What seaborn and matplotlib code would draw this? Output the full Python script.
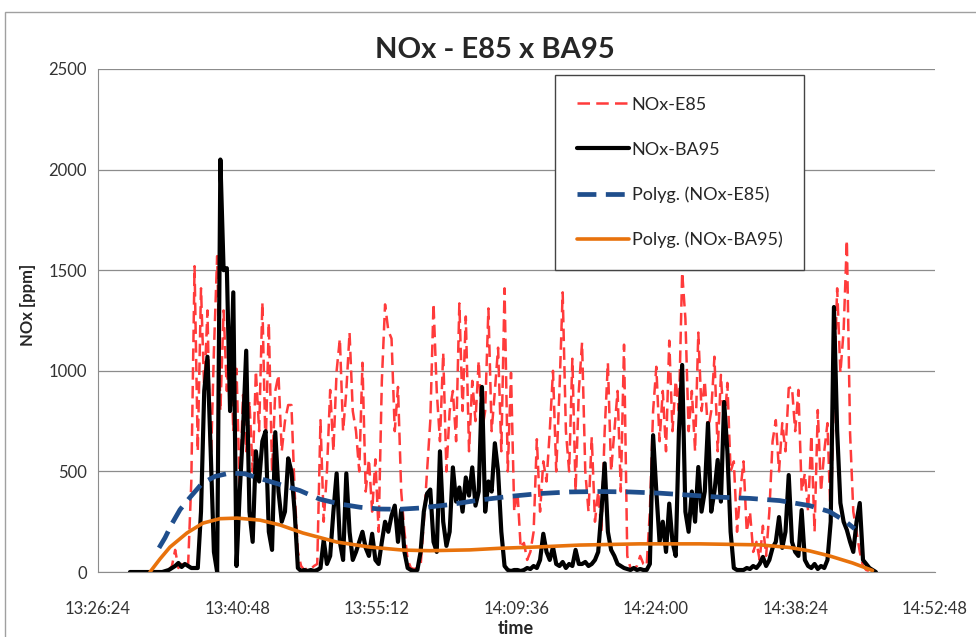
import numpy as np
import seaborn as sns
import matplotlib.pyplot as plt
from matplotlib.ticker import FuncFormatter
from matplotlib.patches import Rectangle

sns.set_style('white')
plt.rcParams['font.family'] = ['Lato', 'DejaVu Sans']

# Data -------------------------------------------------------------------------
start_time = '13:29:42'   # first sample of both logs
step_s = 20               # sampling step [s]

nox_e85 = [
    0, 0, 0, 0, 0, 0, 0, 0, 0, 0,
    0, 0, 10, 30, 110, 20, 40, 15, 30, 450,
    1520, 600, 1410, 900, 1300, 500, 1100, 1570, 800, 1300,
    900, 1200, 700, 1010, 400, 880, 600, 850, 500, 1000,
    700, 1340, 600, 1240, 500, 900, 980, 600, 750, 830,
    830, 400, 100, 30, 10, 20, 15, 30, 40, 755,
    250, 500, 905, 600, 1000, 1160, 700, 900, 1190, 800,
    700, 500, 1040, 400, 560, 300, 560, 200, 950, 1330,
    1200, 1160, 700, 920, 400, 200, 60, 20, 15, 20,
    30, 250, 500, 750, 1335, 900, 650, 1090, 500, 800,
    900, 650, 1335, 800, 1270, 600, 950, 750, 1050, 700,
    800, 1310, 700, 900, 1115, 600, 1410, 500, 990, 300,
    400, 120, 145, 60, 100, 200, 660, 300, 550, 450,
    700, 1000, 500, 900, 1390, 700, 500, 1060, 400, 900,
    1140, 500, 300, 670, 250, 400, 200, 700, 1040, 500,
    700, 900, 400, 1130, 80, 20, 15, 30, 80, 40,
    30, 300, 800, 1020, 650, 900, 600, 1150, 700, 950,
    800, 1490, 1260, 700, 900, 600, 1190, 800, 950, 700,
    800, 1070, 600, 980, 700, 940, 500, 550, 200, 400,
    550, 200, 300, 100, 150, 60, 230, 80, 300, 650,
    755, 500, 740, 600, 914, 920, 700, 905, 400, 490,
    300, 680, 200, 805, 400, 600, 740, 250, 900, 1410,
    990, 1200, 1650, 690, 300, 200, 100, 30, 10, 5,
    0, 0]

nox_ba95 = [
    0, 0, 0, 0, 0, 0, 0, 0, 0, 0,
    0, 5, 10, 20, 30, 45, 25, 40, 30, 20,
    20, 20, 300, 900, 1070, 600, 100, 0, 2050, 1500,
    1510, 800, 1390, 30, 400, 700, 1100, 300, 150, 600,
    450, 650, 700, 200, 110, 695, 400, 250, 300, 565,
    500, 300, 20, 5, 10, 5, 10, 5, 10, 20,
    160, 40, 80, 300, 490, 150, 60, 490, 200, 60,
    100, 150, 200, 120, 80, 190, 60, 40, 150, 250,
    200, 280, 330, 150, 310, 100, 20, 10, 5, 10,
    100, 300, 390, 410, 150, 100, 600, 250, 130, 200,
    520, 350, 420, 300, 470, 380, 520, 330, 400, 920,
    300, 450, 400, 640, 500, 200, 30, 10, 5, 10,
    10, 5, 10, 20, 15, 30, 20, 60, 190, 100,
    60, 124, 40, 30, 50, 20, 40, 30, 110, 40,
    40, 50, 30, 40, 60, 100, 300, 540, 200, 110,
    80, 40, 30, 20, 15, 10, 20, 10, 15, 10,
    10, 40, 680, 400, 150, 250, 100, 340, 150, 80,
    700, 1029, 300, 200, 400, 250, 522, 300, 400, 740,
    300, 400, 557, 350, 845, 600, 200, 20, 10, 10,
    10, 20, 15, 30, 20, 40, 75, 30, 60, 120,
    150, 273, 120, 200, 482, 150, 100, 80, 308, 60,
    30, 20, 40, 15, 30, 20, 60, 250, 1317, 700,
    343, 250, 209, 150, 100, 250, 343, 60, 40, 20,
    10, 0]

# polynomial trendlines (as drawn by the spreadsheet)
poly_e85_time = ['13:32:42', '13:33:19', '13:34:02', '13:34:52', '13:35:53',
                 '13:37:08', '13:38:28', '13:40:01', '13:41:34', '13:43:07',
                 '13:45:11', '13:47:14', '13:49:18', '13:51:22', '13:53:26',
                 '13:55:30', '13:57:33', '13:59:37', '14:02:43', '14:05:49',
                 '14:08:54', '14:12:00', '14:15:06', '14:18:11', '14:21:17',
                 '14:24:23', '14:27:28', '14:30:34', '14:33:40', '14:36:46',
                 '14:39:51', '14:41:55', '14:43:28', '14:44:30']
poly_e85 = [120, 170, 240, 310, 370, 440, 475, 492, 488, 465,
            435, 405, 362, 338, 322, 313, 312, 318, 335, 358,
            376, 390, 398, 400, 398, 392, 382, 372, 366, 355,
            330, 300, 255, 215]

poly_ba95_time = ['13:31:46', '13:32:48', '13:33:50', '13:35:35', '13:37:14',
                  '13:38:59', '13:40:44', '13:43:07', '13:45:11', '13:47:33',
                  '13:51:03', '13:54:28', '13:57:52', '14:00:39', '14:04:47',
                  '14:07:52', '14:12:00', '14:16:08', '14:22:19', '14:28:30',
                  '14:34:42', '14:37:47', '14:39:51', '14:41:55', '14:44:17',
                  '14:46:21']
poly_ba95 = [0, 65, 124, 194, 243, 265, 268, 258, 234, 194,
             149, 124, 109, 106, 110, 118, 125, 134, 140, 140,
             135, 122, 105, 80, 45, 8]

x_ticks = ['13:26:24', '13:40:48', '13:55:12', '14:09:36',
           '14:24:00', '14:38:24', '14:52:48']
y_ticks = [0, 500, 1000, 1500, 2000, 2500]


# ==============================================================================
def to_sec(s):
    h, m, sec = (int(v) for v in s.split(':'))
    return h * 3600 + m * 60 + sec


def fmt_clock(v, pos=None):
    v = int(round(v))
    return f'{v // 3600}:{(v % 3600) // 60:02d}:{v % 60:02d}'


t = to_sec(start_time) + step_s * np.arange(len(nox_e85))
t_pe = [to_sec(s) for s in poly_e85_time]
t_pb = [to_sec(s) for s in poly_ba95_time]

fig, ax = plt.subplots(figsize=(9.76, 6.37), dpi=100)
fig.subplots_adjust(left=0.1004, right=0.958, bottom=0.102, top=0.8917)

sns.lineplot(x=t, y=nox_e85, ax=ax, color='#FF3B3B', lw=1.8,
             linestyle=(0, (5, 2.5)), label='NOx-E85', estimator=None, sort=False)
sns.lineplot(x=t, y=nox_ba95, ax=ax, color='black', lw=3.0,
             label='NOx-BA95', estimator=None, sort=False)
sns.lineplot(x=t_pe, y=poly_e85, ax=ax, color='#1F4E8C', lw=3.4,
             linestyle=(0, (4, 2)), label='Polyg. (NOx-E85)',
             estimator=None, sort=False)
sns.lineplot(x=t_pb, y=poly_ba95, ax=ax, color='#E8720C', lw=2.6,
             label='Polyg. (NOx-BA95)', estimator=None, sort=False)

xt = [to_sec(s) for s in x_ticks]
ax.set_xlim(xt[0], xt[-1])
ax.set_xticks(xt)
ax.xaxis.set_major_formatter(FuncFormatter(fmt_clock))
ax.set_ylim(0, 2500)
ax.set_yticks(y_ticks)
ax.grid(axis='y', color='#8c8c8c', lw=0.9)
ax.grid(axis='x', visible=False)

for side in ['top', 'right']:
    ax.spines[side].set_visible(False)
for side in ['left', 'bottom']:
    ax.spines[side].set_color('#8c8c8c')
ax.tick_params(axis='both', direction='out', length=5, color='#8c8c8c',
               labelsize=12, labelcolor='#333333')
ax.tick_params(axis='y', pad=3)
ax.tick_params(axis='x', pad=16)
ax.set_xlabel('')
ax.set_ylabel('')

leg = ax.legend(loc='upper left', bbox_to_anchor=(0.546, 0.988), fontsize=13,
                labelspacing=1.6, handlelength=2.9, handletextpad=0.15,
                borderpad=1.2, fancybox=False, framealpha=1, borderaxespad=0)
leg.get_frame().set_edgecolor('#444444')
leg.get_frame().set_linewidth(1.0)

fig.text(495 / 976, 1 - 50 / 637, 'NOx - E85 x BA95', ha='center', va='center',
         fontsize=21, fontweight='bold')
fig.text(28 / 976, 1 - 305 / 637, 'NOx [ppm]', rotation=90, ha='center',
         va='center', fontsize=12, fontweight='bold')
fig.text(516 / 976, 1 - 628 / 637, 'time', ha='center', va='center',
         fontsize=13, fontweight='bold')

# chart area frame
fig.add_artist(Rectangle((5 / 976, -0.05), 1.0, 1 - 12 / 637 + 0.05,
                         transform=fig.transFigure, fill=False,
                         ec='#a0a0a0', lw=1.0))

fig.savefig('out.png', dpi=100)
